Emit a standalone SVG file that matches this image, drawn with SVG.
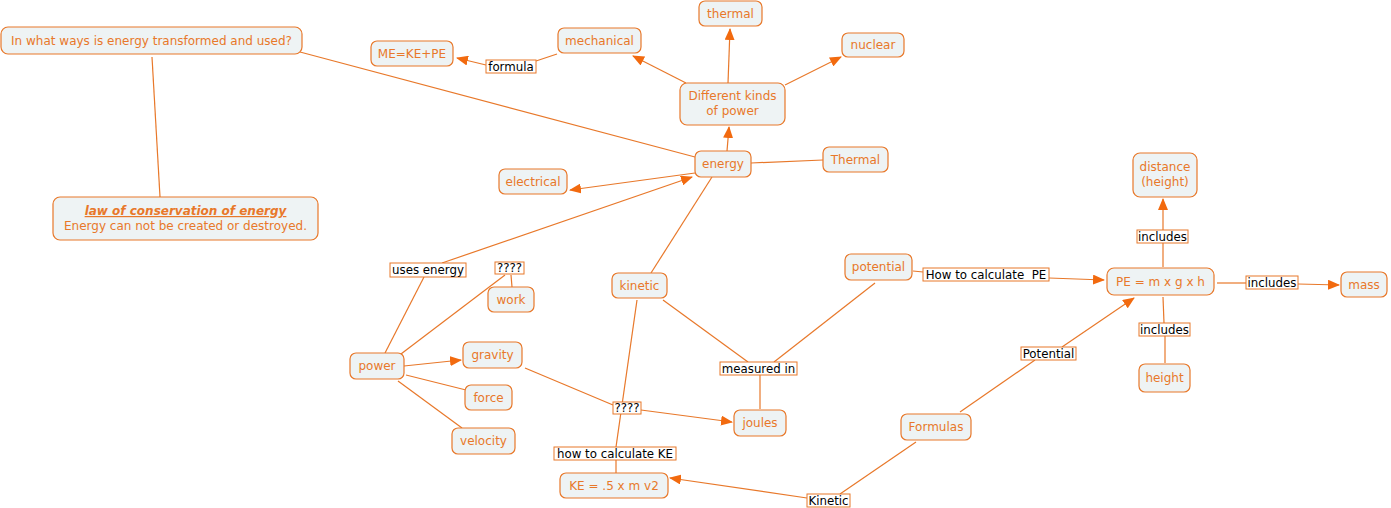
<svg xmlns="http://www.w3.org/2000/svg" width="1391" height="508" viewBox="0 0 1391 508">
<style>
.n rect{fill:#eef3f4;stroke:#e8782a;stroke-width:1.2}
.n text{fill:#e8782a;font-family:"DejaVu Sans",Verdana,sans-serif;font-size:12px;text-anchor:middle}
.l rect{fill:#fff;stroke:#e8782a;stroke-width:1}
.l text{fill:#000;font-family:"DejaVu Sans",Verdana,sans-serif;font-size:11.8px;text-anchor:middle}
.c line{stroke:#e8782a;stroke-width:1.2;fill:none}
.c line.a{marker-end:url(#ah)}
</style>
<defs>
<marker id="ah" viewBox="0 0 12 10" refX="11" refY="5" markerWidth="12" markerHeight="10" markerUnits="userSpaceOnUse" orient="auto">
<path d="M0,0 L12,5 L0,10 Z" fill="#f26a0f"/>
</marker>
</defs>
<rect width="1391" height="508" fill="#fff"/>
<g id="connectors" class="c">
<line x1="300" y1="52" x2="695" y2="157"/>
<line x1="152" y1="57" x2="160" y2="197"/>
<line class="a" x1="727" y1="151" x2="729" y2="127"/>
<line class="a" x1="686" y1="83" x2="633" y2="56"/>
<line class="a" x1="728" y1="83" x2="730" y2="29"/>
<line class="a" x1="785" y1="85" x2="841" y2="57"/>
<line x1="557" y1="54" x2="536" y2="61"/>
<line class="a" x1="486" y1="65" x2="457" y2="58"/>
<line x1="751" y1="163" x2="823" y2="160"/>
<line class="a" x1="695" y1="173" x2="570" y2="190"/>
<line x1="385" y1="353" x2="424" y2="277"/>
<line class="a" x1="442" y1="263" x2="692" y2="177"/>
<line x1="397" y1="357" x2="505" y2="275"/>
<line x1="511" y1="275" x2="512" y2="287"/>
<line x1="712" y1="177" x2="651" y2="273"/>
<line x1="663" y1="300" x2="748" y2="362"/>
<line x1="875" y1="283" x2="774" y2="362"/>
<line x1="760" y1="375" x2="760" y2="409"/>
<line class="a" x1="404" y1="366" x2="461" y2="360"/>
<line x1="406" y1="375" x2="466" y2="390"/>
<line x1="398" y1="381" x2="462" y2="428"/>
<line x1="525" y1="368" x2="613" y2="405"/>
<line class="a" x1="641" y1="410" x2="732" y2="422"/>
<line x1="637" y1="300" x2="616" y2="447"/>
<line x1="616" y1="460" x2="616" y2="473"/>
<line x1="916" y1="442" x2="840" y2="494"/>
<line class="a" x1="807" y1="498" x2="670" y2="478"/>
<line x1="960" y1="412" x2="1035" y2="360"/>
<line class="a" x1="1062" y1="347" x2="1134" y2="298"/>
<line x1="913" y1="271" x2="923" y2="272"/>
<line class="a" x1="1049" y1="278" x2="1104" y2="280"/>
<line x1="1163" y1="267" x2="1163" y2="243"/>
<line class="a" x1="1163" y1="230" x2="1163" y2="199"/>
<line x1="1217" y1="283" x2="1246" y2="283"/>
<line class="a" x1="1298" y1="284" x2="1339" y2="285"/>
<line x1="1163" y1="297" x2="1164" y2="323"/>
<line x1="1165" y1="336" x2="1165" y2="363"/>
</g>
<g id="lbl-formula" class="l"><rect x="486" y="60" width="50" height="13"/><text x="511" y="71">formula</text></g>
<g id="lbl-uses" class="l"><rect x="390" y="263" width="76" height="14"/><text x="428" y="274">uses energy</text></g>
<g id="lbl-q1" class="l"><rect x="495" y="262" width="29" height="12"/><text x="509.5" y="272">????</text></g>
<g id="lbl-measured" class="l"><rect x="720" y="362" width="77" height="13"/><text x="758.5" y="373">measured in</text></g>
<g id="lbl-q2" class="l"><rect x="613" y="402" width="28" height="12"/><text x="627" y="412">????</text></g>
<g id="lbl-howke" class="l"><rect x="554" y="447" width="122" height="13"/><text x="615" y="458">how to calculate KE</text></g>
<g id="lbl-kinetic" class="l"><rect x="807" y="494" width="43" height="13"/><text x="828.5" y="505">Kinetic</text></g>
<g id="lbl-howpe" class="l"><rect x="923" y="268" width="126" height="13"/><text x="986" y="279" xml:space="preserve">How to calculate  PE</text></g>
<g id="lbl-potential" class="l"><rect x="1021" y="347" width="55" height="13"/><text x="1048.5" y="358">Potential</text></g>
<g id="lbl-inc1" class="l"><rect x="1137" y="230" width="51" height="13"/><text x="1162.5" y="241">includes</text></g>
<g id="lbl-inc2" class="l"><rect x="1246" y="276" width="52" height="13"/><text x="1272" y="287">includes</text></g>
<g id="lbl-inc3" class="l"><rect x="1139" y="323" width="51" height="13"/><text x="1164.5" y="334">includes</text></g>

<g id="n-question" class="n"><rect x="1" y="27" width="301" height="27" rx="7"/><text x="151.5" y="45">In what ways is energy transformed and used?</text></g>
<g id="n-law" class="n"><rect x="53" y="197" width="265" height="43" rx="7"/><text x="185.5" y="215" font-weight="bold" font-style="italic" text-decoration="underline">law of conservation of energy</text><text x="185.5" y="230">Energy can not be created or destroyed.</text></g>
<g id="n-me" class="n"><rect x="371" y="41" width="82" height="25" rx="6"/><text x="412" y="58">ME=KE+PE</text></g>
<g id="n-mechanical" class="n"><rect x="558" y="28" width="83" height="25" rx="6"/><text x="599.5" y="45">mechanical</text></g>
<g id="n-thermal" class="n"><rect x="699" y="1" width="63" height="25" rx="6"/><text x="730.5" y="18">thermal</text></g>
<g id="n-nuclear" class="n"><rect x="842" y="33" width="62" height="24" rx="6"/><text x="873" y="49">nuclear</text></g>
<g id="n-kinds" class="n"><rect x="680" y="83" width="105" height="42" rx="7"/><text x="732.5" y="100">Different kinds</text><text x="732.5" y="115">of power</text></g>
<g id="n-energy" class="n"><rect x="695" y="151" width="56" height="26" rx="6"/><text x="723" y="168">energy</text></g>
<g id="n-Thermal" class="n"><rect x="823" y="147" width="65" height="25" rx="6"/><text x="855.5" y="164">Thermal</text></g>
<g id="n-electrical" class="n"><rect x="499" y="169" width="68" height="25" rx="6"/><text x="533" y="186">electrical</text></g>
<g id="n-distance" class="n"><rect x="1133" y="153" width="64" height="44" rx="7"/><text x="1165" y="171">distance</text><text x="1165" y="186">(height)</text></g>
<g id="n-kinetic" class="n"><rect x="612" y="273" width="55" height="25" rx="6"/><text x="639.5" y="290">kinetic</text></g>
<g id="n-potential" class="n"><rect x="845" y="254" width="67" height="26" rx="6"/><text x="878.5" y="271">potential</text></g>
<g id="n-pe" class="n"><rect x="1107" y="268" width="107" height="27" rx="7"/><text x="1160.5" y="286">PE = m x g x h</text></g>
<g id="n-mass" class="n"><rect x="1341" y="272" width="46" height="25" rx="6"/><text x="1364" y="289">mass</text></g>
<g id="n-work" class="n"><rect x="488" y="287" width="46" height="25" rx="6"/><text x="511" y="304">work</text></g>
<g id="n-power" class="n"><rect x="350" y="353" width="54" height="26" rx="6"/><text x="377" y="370">power</text></g>
<g id="n-gravity" class="n"><rect x="463" y="342" width="59" height="26" rx="6"/><text x="492.5" y="359">gravity</text></g>
<g id="n-force" class="n"><rect x="465" y="385" width="47" height="25" rx="6"/><text x="488.5" y="402">force</text></g>
<g id="n-velocity" class="n"><rect x="452" y="428" width="63" height="26" rx="6"/><text x="483.5" y="445">velocity</text></g>
<g id="n-joules" class="n"><rect x="734" y="410" width="52" height="26" rx="6"/><text x="760" y="427">joules</text></g>
<g id="n-height" class="n"><rect x="1139" y="364" width="51" height="28" rx="6"/><text x="1164.5" y="382">height</text></g>
<g id="n-formulas" class="n"><rect x="901" y="414" width="70" height="26" rx="6"/><text x="936" y="431">Formulas</text></g>
<g id="n-ke" class="n"><rect x="560" y="473" width="108" height="25" rx="6"/><text x="614" y="490">KE = .5 x m v2</text></g>
</svg>
